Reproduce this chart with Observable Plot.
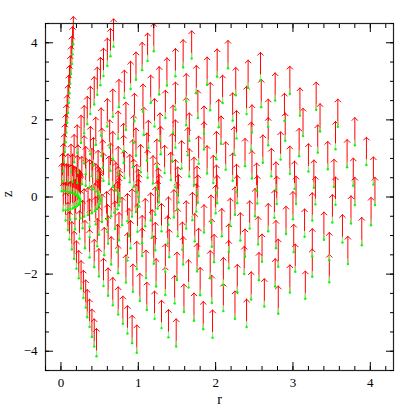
<!DOCTYPE html>
<html><head><meta charset="utf-8">
<script src="https://cdn.jsdelivr.net/npm/d3@7"></script>
<script src="https://cdn.jsdelivr.net/npm/@observablehq/plot@0.6"></script>
<style>body{margin:0;background:#fff}</style>
</head><body><div id="chart"></div>
<script>
// Particle positions (r, z), read ray by ray from the picture (inner to outer)
const ray00R = [0.01,0.02,0.03,0.04,0.05,0.06,0.07,0.08,0.09,0.10,0.11,0.12,0.13,0.14,0.15,0.16];
const ray00Z = [0.15,0.41,0.66,0.91,1.17,1.42,1.67,1.92,2.18,2.44,2.69,2.94,3.19,3.45,3.70,3.96];
const ray01R = [0.04,0.09,0.13,0.17,0.21,0.26,0.30,0.34,0.38,0.43,0.47,0.51,0.55,0.60,0.64,0.68];
const ray01Z = [0.15,0.40,0.65,0.90,1.15,1.40,1.65,1.89,2.15,2.40,2.65,2.90,3.14,3.40,3.65,3.90];
const ray02R = [0.07,0.15,0.22,0.30,0.38,0.45,0.52,0.60,0.67,0.75,0.82,0.90,0.97,1.05,1.12,1.20];
const ray02Z = [0.14,0.39,0.63,0.87,1.11,1.35,1.59,1.83,2.08,2.33,2.57,2.80,3.04,3.29,3.53,3.78];
const ray03R = [0.10,0.21,0.32,0.42,0.53,0.63,0.74,0.84,0.95,1.06,1.16,1.27,1.37,1.48,1.58,1.69];
const ray03Z = [0.13,0.36,0.59,0.82,1.06,1.28,1.51,1.74,1.97,2.21,2.44,2.66,2.89,3.13,3.36,3.59];
const ray04R = [0.13,0.27,0.40,0.54,0.67,0.81,0.94,1.07,1.21,1.35,1.48,1.62,1.75,1.89,2.02,2.16];
const ray04Z = [0.11,0.33,0.54,0.76,0.98,1.19,1.40,1.61,1.83,2.05,2.26,2.48,2.69,2.91,3.12,3.34];
const ray05R = [0.16,0.32,0.48,0.64,0.81,0.97,1.13,1.28,1.45,1.62,1.77,1.93,2.09,2.26,2.42,2.58];
const ray05Z = [0.09,0.29,0.49,0.68,0.88,1.07,1.27,1.46,1.66,1.86,2.05,2.25,2.44,2.64,2.83,3.03];
const ray06R = [0.18,0.37,0.55,0.74,0.93,1.11,1.29,1.48,1.66,1.85,2.04,2.22,2.40,2.59,2.77,2.96];
const ray06Z = [0.07,0.25,0.42,0.59,0.77,0.94,1.11,1.28,1.46,1.64,1.81,1.98,2.15,2.33,2.50,2.67];
const ray07R = [0.20,0.41,0.62,0.82,1.03,1.24,1.44,1.64,1.85,2.07,2.27,2.47,2.68,2.89,3.09,3.30];
const ray07Z = [0.05,0.20,0.34,0.49,0.64,0.78,0.93,1.08,1.23,1.38,1.52,1.67,1.82,1.97,2.11,2.26];
const ray08R = [0.22,0.45,0.67,0.89,1.12,1.34,1.56,1.78,2.01,2.24,2.46,2.68,2.90,3.13,3.35,3.58];
const ray08Z = [0.02,0.14,0.26,0.38,0.50,0.62,0.74,0.86,0.98,1.10,1.22,1.34,1.46,1.58,1.70,1.82];
const ray09R = [0.23,0.48,0.71,0.94,1.19,1.42,1.66,1.89,2.13,2.38,2.61,2.84,3.08,3.32,3.55,3.80];
const ray09Z = [-0.01,0.08,0.17,0.26,0.35,0.44,0.53,0.61,0.71,0.80,0.89,0.97,1.06,1.15,1.24,1.34];
const ray10R = [0.24,0.50,0.74,0.98,1.24,1.48,1.72,1.97,2.22,2.47,2.72,2.96,3.20,3.45,3.70,3.95];
const ray10Z = [-0.04,0.02,0.07,0.13,0.19,0.25,0.31,0.36,0.42,0.48,0.54,0.60,0.66,0.72,0.77,0.83];
const ray11R = [0.25,0.51,0.76,1.00,1.26,1.51,1.76,2.01,2.27,2.53,2.78,3.02,3.27,3.53,3.78,4.04];
const ray11Z = [-0.07,-0.05,-0.02,0.00,0.03,0.06,0.08,0.11,0.13,0.16,0.19,0.21,0.24,0.26,0.29,0.32];
const ray12R = [0.25,0.51,0.76,1.01,1.27,1.52,1.77,2.02,2.28,2.54,2.79,3.04,3.29,3.55,3.80,4.06];
const ray12Z = [-0.11,-0.11,-0.12,-0.13,-0.14,-0.14,-0.15,-0.16,-0.16,-0.17,-0.18,-0.18,-0.19,-0.20,-0.21,-0.21];
const ray13R = [0.25,0.50,0.75,1.00,1.25,1.50,1.75,2.00,2.25,2.51,2.76,3.00,3.25,3.51,3.75,4.01];
const ray13Z = [-0.14,-0.18,-0.22,-0.26,-0.30,-0.34,-0.38,-0.42,-0.46,-0.50,-0.54,-0.58,-0.61,-0.66,-0.69,-0.73];
const ray14R = [0.24,0.49,0.73,0.97,1.22,1.46,1.70,1.94,2.19,2.44,2.68,2.91,3.15,3.40,3.64,3.89];
const ray14Z = [-0.17,-0.24,-0.32,-0.39,-0.46,-0.53,-0.60,-0.67,-0.75,-0.82,-0.89,-0.96,-1.03,-1.11,-1.18,-1.25];
const ray15R = [0.23,0.47,0.69,0.92,1.16,1.39,1.62,1.85,2.08,2.32,2.55,2.78,3.01,3.25,3.47,3.71];
const ray15Z = [-0.20,-0.31,-0.41,-0.51,-0.61,-0.72,-0.82,-0.92,-1.02,-1.13,-1.23,-1.33,-1.43,-1.54,-1.64,-1.74];
const ray16R = [0.21,0.44,0.65,0.86,1.09,1.30,1.51,1.73,1.95,2.17,2.38,2.60,2.81,3.03,3.25,3.47];
const ray16Z = [-0.23,-0.37,-0.50,-0.63,-0.76,-0.89,-1.02,-1.15,-1.29,-1.42,-1.55,-1.68,-1.81,-1.94,-2.07,-2.21];
const ray17R = [0.19,0.40,0.59,0.79,0.99,1.18,1.38,1.57,1.78,1.98,2.17,2.37,2.56,2.77,2.96,3.16];
const ray17Z = [-0.26,-0.42,-0.58,-0.73,-0.90,-1.05,-1.21,-1.37,-1.53,-1.69,-1.85,-2.00,-2.16,-2.32,-2.48,-2.64];
const ray18R = [0.17,0.35,0.53,0.70,0.88,1.05,1.22,1.40,1.58,1.76,1.93,2.10,2.28,2.46,2.63,2.81];
const ray18Z = [-0.28,-0.47,-0.65,-0.83,-1.02,-1.20,-1.38,-1.56,-1.75,-1.93,-2.11,-2.29,-2.47,-2.66,-2.84,-3.03];
const ray19R = [0.15,0.30,0.45,0.60,0.75,0.90,1.05,1.20,1.35,1.50,1.65,1.80,1.95,2.10,2.25,2.40];
const ray19Z = [-0.30,-0.51,-0.71,-0.91,-1.12,-1.33,-1.53,-1.73,-1.94,-2.15,-2.35,-2.55,-2.75,-2.96,-3.16,-3.37];
const ray20R = [0.12,0.25,0.37,0.49,0.61,0.73,0.86,0.98,1.10,1.23,1.35,1.47,1.59,1.72,1.84,1.96];
const ray20Z = [-0.32,-0.55,-0.77,-0.98,-1.21,-1.43,-1.65,-1.87,-2.10,-2.32,-2.54,-2.76,-2.98,-3.21,-3.43,-3.65];
const ray21R = [0.09,0.19,0.28,0.37,0.47,0.56,0.65,0.74,0.84,0.93,1.02,1.11,1.21,1.30,1.39,1.49];
const ray21Z = [-0.33,-0.57,-0.81,-1.04,-1.28,-1.51,-1.75,-1.98,-2.22,-2.46,-2.70,-2.93,-3.16,-3.40,-3.64,-3.88];
const ray22R = [0.06,0.12,0.18,0.24,0.31,0.37,0.43,0.49,0.55,0.61,0.67,0.74,0.80,0.86,0.92,0.98];
const ray22Z = [-0.34,-0.59,-0.84,-1.08,-1.33,-1.57,-1.82,-2.06,-2.31,-2.56,-2.81,-3.05,-3.29,-3.54,-3.79,-4.04];
const ray23R = [0.03,0.06,0.09,0.11,0.14,0.17,0.20,0.23,0.26,0.29,0.32,0.34,0.37,0.40,0.43,0.46];
const ray23Z = [-0.35,-0.61,-0.86,-1.10,-1.36,-1.61,-1.86,-2.11,-2.37,-2.62,-2.87,-3.12,-3.37,-3.63,-3.88,-4.13];

const arrowLen = 0.72;   // z-velocity arrow length, in z units
const xTicks = [0,1,2,3,4];
const yTicks = [-4,-2,0,2,4];
const xMinor = [-0.2,0,0.2,0.4,0.6,0.8,1,1.2,1.4,1.6,1.8,2,2.2,2.4,2.6,2.8,3,3.2,3.4,3.6,3.8,4,4.2];
const yMinor = [-4.5,-4,-3.5,-3,-2.5,-2,-1.5,-1,-0.5,0,0.5,1,1.5,2,2.5,3,3.5,4,4.5];

const rayPairs = [
  [ray00R,ray00Z],[ray01R,ray01Z],[ray02R,ray02Z],[ray03R,ray03Z],[ray04R,ray04Z],[ray05R,ray05Z],
  [ray06R,ray06Z],[ray07R,ray07Z],[ray08R,ray08Z],[ray09R,ray09Z],[ray10R,ray10Z],[ray11R,ray11Z],
  [ray12R,ray12Z],[ray13R,ray13Z],[ray14R,ray14Z],[ray15R,ray15Z],[ray16R,ray16Z],[ray17R,ray17Z],
  [ray18R,ray18Z],[ray19R,ray19Z],[ray20R,ray20Z],[ray21R,ray21Z],[ray22R,ray22Z],[ray23R,ray23Z]
];
const points = rayPairs.flatMap(([R, Z]) => R.map((r, i) => ({r, z: Z[i]})));

const font = "'Liberation Serif', 'Times New Roman', serif";
const fmt = d => d < 0 ? "\u2212" + (-d) : String(d);
const chart = Plot.plot({
  width: 415, height: 415,
  marginLeft: 45, marginRight: 22, marginTop: 23, marginBottom: 45,
  style: {fontFamily: font, fontSize: "13px", background: "white", color: "#000"},
  x: {domain: [-0.2, 4.3]},
  y: {domain: [-4.5, 4.5]},
  marks: [
    Plot.arrow(points, {x1: "r", y1: "z", x2: "r", y2: d => d.z + arrowLen, stroke: "#ff0000", strokeWidth: 1, headLength: 6, headAngle: 90}),
    Plot.link(points, {x1: "r", y1: "z", x2: "r", y2: d => d.z + 0.15, stroke: "#80ff80", strokeWidth: 1}),
    Plot.dot(points, {x: "r", y: "z", r: 1.2, fill: "#00ff00"}),
    Plot.frame({stroke: "#222", strokeWidth: 1.2}),
    Plot.axisX({ticks: xTicks, anchor: "bottom", tickSize: 0, tickPadding: 7, label: null, tickFormat: fmt, fontSize: 13, fontFamily: font}),
    Plot.axisY({ticks: yTicks, anchor: "left", tickSize: 0, tickPadding: 8, label: null, tickFormat: fmt, fontSize: 13, fontFamily: font}),
    Plot.axisX({ticks: xTicks, anchor: "bottom", tickSize: -8, tickFormat: () => "", label: null}),
    Plot.axisX({ticks: xTicks, anchor: "top", tickSize: -8, tickFormat: () => "", label: null}),
    Plot.axisX({ticks: xMinor, anchor: "bottom", tickSize: -4, tickFormat: () => "", label: null}),
    Plot.axisX({ticks: xMinor, anchor: "top", tickSize: -4, tickFormat: () => "", label: null}),
    Plot.axisY({ticks: yTicks, anchor: "left", tickSize: -8, tickFormat: () => "", label: null}),
    Plot.axisY({ticks: yTicks, anchor: "right", tickSize: -8, tickFormat: () => "", label: null}),
    Plot.axisY({ticks: yMinor, anchor: "left", tickSize: -4, tickFormat: () => "", label: null}),
    Plot.axisY({ticks: yMinor, anchor: "right", tickSize: -4, tickFormat: () => "", label: null}),
    Plot.text(["r"], {frameAnchor: "bottom", dy: 24, lineAnchor: "top", fontSize: 14, fill: "#000", fontFamily: font}),
    Plot.text(["z"], {frameAnchor: "left", dx: -38, rotate: -90, fontSize: 14, fill: "#000", fontFamily: font})
  ]
});
document.getElementById("chart").append(chart);
</script>
</body></html>
